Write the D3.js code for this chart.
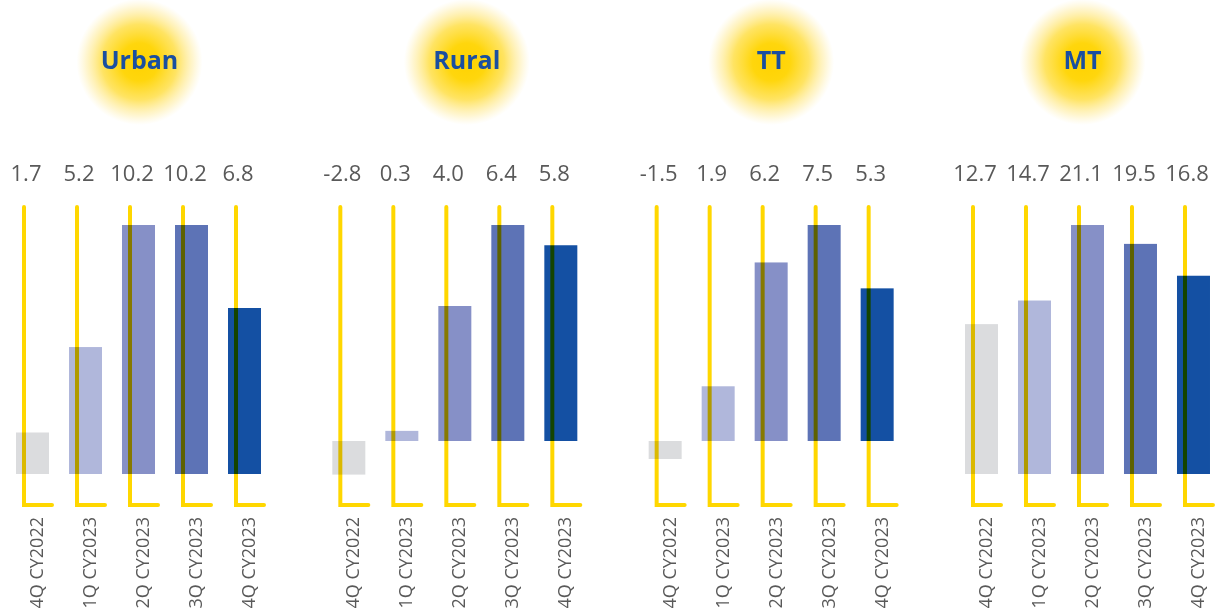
<!DOCTYPE html>
<html>
<head>
<meta charset="utf-8">
<script src="https://cdn.jsdelivr.net/npm/d3@7"></script>
<style>
  html, body { margin: 0; padding: 0; background: #fff; }
  #box { width: 1218px; height: 614px; }
  text { font-family: "Segoe UI", "Open Sans", sans-serif; }
</style>
</head>
<body>
<div id="box"></div>
<script>
// chart data
var panels = ["Urban", "Rural", "TT", "MT"];
var quarters = ["4Q CY2022", "1Q CY2023", "2Q CY2023", "3Q CY2023", "4Q CY2023"];
var urban = [1.7, 5.2, 10.2, 10.2, 6.8];
var rural = [-2.8, 0.3, 4.0, 6.4, 5.8];
var tt = [-1.5, 1.9, 6.2, 7.5, 5.3];
var mt = [12.7, 14.7, 21.1, 19.5, 16.8];
var series = [urban, rural, tt, mt];

var barColors = ["#dbdcde", "#b0b7db", "#8690c7", "#5d73b6", "#1450a3"];
var yellow = "#ffd700";
var titleShift = [1, 12, 0, -5];

var width = 1218, height = 614;

var svg = d3.select("#box")
    .append("svg")
    .attr("width", width)
    .attr("height", height);

// glow for the titles
var grad = svg.append("defs").append("radialGradient").attr("id", "glow");
grad.append("stop").attr("offset", "0%").attr("stop-color", "#ffd200").attr("stop-opacity", 1);
grad.append("stop").attr("offset", "30%").attr("stop-color", "#ffd400").attr("stop-opacity", 0.95);
grad.append("stop").attr("offset", "60%").attr("stop-color", "#ffd820").attr("stop-opacity", 0.7);
grad.append("stop").attr("offset", "85%").attr("stop-color", "#ffe060").attr("stop-opacity", 0.3);
grad.append("stop").attr("offset", "100%").attr("stop-color", "#ffe680").attr("stop-opacity", 0);

var fmt = d3.formatLocale({ decimal: ".", thousands: ",", grouping: [3], currency: ["", ""], minus: "-" }).format(".1f");

var panelX = d3.scaleBand()
    .domain(panels)
    .range([16, 16 + 4 * 316.33])
    .padding(0);

var barTop = 225, lineTop = 207, lineBottom = 505;

panels.forEach(function(name, i) {
    var values = series[i];
    var x0 = panelX(name);
    var g = svg.append("g").attr("class", "panel");

    var x = d3.scaleBand()
        .domain(quarters)
        .range([x0, x0 + 4 * 53 + 33])
        .paddingInner(20 / 53)
        .paddingOuter(0);

    var vmin = d3.min(values), vmax = d3.max(values);
    var base = vmin < 0 ? 441 : 474;
    var y = d3.scaleLinear()
        .domain(vmin < 0 ? [vmin, 0, vmax] : [0, vmax])
        .range(vmin < 0 ? [base - vmin * 12, base, barTop] : [base, barTop]);

    var data = quarters.map(function(q, j) { return { q: q, v: values[j], j: j }; });

    // title glow + text
    var cx = x0 + 122.5 + titleShift[i];
    g.append("circle")
        .attr("cx", cx)
        .attr("cy", 62)
        .attr("r", 63)
        .attr("fill", "url(#glow)");
    g.append("text")
        .attr("x", cx)
        .attr("y", 69)
        .attr("text-anchor", "middle")
        .attr("font-size", 25)
        .attr("font-weight", "bold")
        .attr("fill", "#1a4fa0")
        .text(name);

    // yellow L axes
    g.selectAll(".ax")
        .data(data)
        .enter()
        .append("path")
        .attr("class", "ax")
        .attr("d", function(d) {
            var lx = x(d.q) + 8;
            return "M" + lx + "," + lineTop + "V" + lineBottom + "H" + (lx + 28);
        })
        .attr("fill", "none")
        .attr("stroke", yellow)
        .attr("stroke-width", 4)
        .attr("stroke-linecap", "round");

    // bars
    g.selectAll(".bar")
        .data(data)
        .enter()
        .append("rect")
        .attr("class", "bar")
        .attr("x", function(d) { return x(d.q); })
        .attr("width", x.bandwidth())
        .attr("y", function(d) { return Math.min(y(d.v), y(0)); })
        .attr("height", function(d) { return Math.abs(y(d.v) - y(0)); })
        .attr("fill", function(d) { return barColors[d.j]; })
        .style("mix-blend-mode", "multiply");

    // value labels
    g.selectAll(".val")
        .data(data)
        .enter()
        .append("text")
        .attr("class", "val")
        .attr("x", function(d) { return x(d.q) + 10; })
        .attr("y", 181)
        .attr("text-anchor", "middle")
        .attr("font-size", 22)
        .attr("fill", "#595959")
        .text(function(d) { return fmt(d.v); });

    // category labels
    g.selectAll(".cat")
        .data(data)
        .enter()
        .append("text")
        .attr("class", "cat")
        .attr("transform", function(d) {
            return "translate(" + (x(d.q) + 27) + ",517) rotate(-90)";
        })
        .attr("text-anchor", "end")
        .attr("font-size", 18)
        .attr("fill", "#595959")
        .text(function(d) { return d.q; });
});
</script>
</body>
</html>
